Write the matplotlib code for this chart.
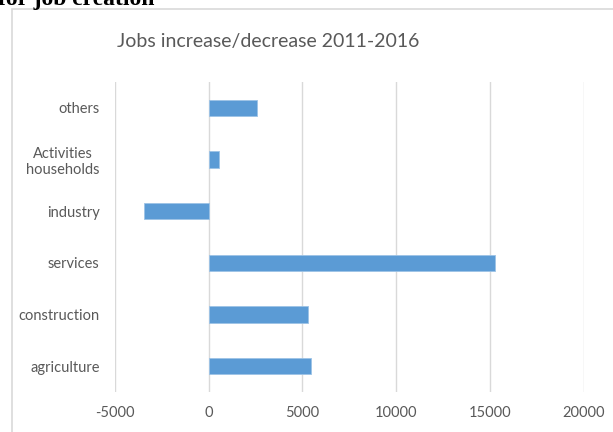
import matplotlib
matplotlib.use("Agg")
import matplotlib.pyplot as plt
from matplotlib.patches import Rectangle

categories = ["agriculture", "construction", "services", "industry",
              "Activities\nhouseholds", "others"]
values = [5440, 5310, 15300, -3470, 575, 2600]
xticks = [-5000, 0, 5000, 10000, 15000, 20000]
title = "Jobs increase/decrease 2011-2016"

W, H = 613, 432
fig = plt.figure(figsize=(W / 100, H / 100), dpi=100)
plt.rcParams['font.family'] = ['Lato', 'DejaVu Sans']

# outer chart frame
fig.patches.append(Rectangle((12 / W, -0.1), 1.2, 1 - 9 / H + 0.1,
                             transform=fig.transFigure, fill=False,
                             edgecolor="#D9D9D9", linewidth=1.2))

# header text from document (cut off)
fig.text(-2 / W, 1 - 5 / H, "for job creation", fontsize=17, fontweight="bold",
         family="Liberation Serif", ha="left", va="baseline", color="black")

ax = fig.add_axes([115 / W, 1 - 392 / H, (583.5 - 115) / W, (392 - 82) / H])
ypos = list(range(len(categories)))
ax.barh(ypos, values, height=0.31, color="#5B9BD5", edgecolor="#9DC3E6",
        linewidth=0.6, zorder=3)
ax.set_xlim(-5000, 20000)
ax.set_ylim(-0.5, len(categories) - 0.5)
ax.set_xticks(xticks)
ax.set_xticklabels([str(t) for t in xticks])
ax.set_yticks(ypos)
ax.set_yticklabels(categories, multialignment="center")
ax.grid(axis="x", color="#D9D9D9", linewidth=1.0, zorder=0)
for s in ax.spines.values():
    s.set_visible(False)
ax.tick_params(axis="both", length=0, labelsize=10.5, colors="#595959")
ax.tick_params(axis="y", pad=11)
ax.tick_params(axis="x", pad=10)

fig.text(268 / W, 1 - 42 / H, title, fontsize=14, color="#595959",
         ha="center", va="center")

fig.savefig("out.png", dpi=100)
